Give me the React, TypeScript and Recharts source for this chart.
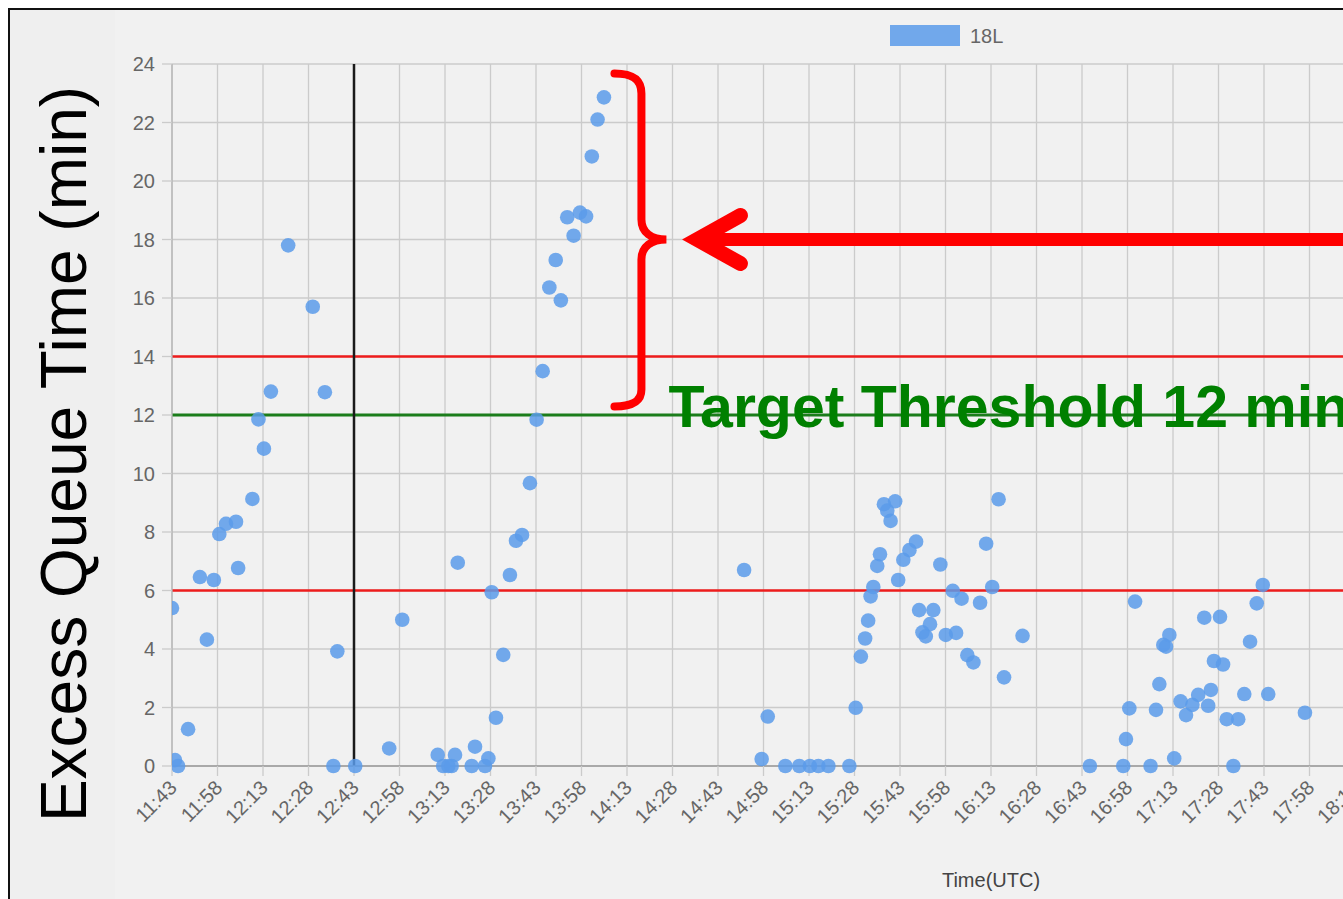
import React from "react";
import {
  ScatterChart,
  Scatter,
  XAxis,
  YAxis,
  CartesianGrid,
  ReferenceLine,
  ReferenceDot,
} from "recharts";

// ---------- data ----------
const tickLabels = [
  "11:43", "11:58", "12:13", "12:28", "12:43", "12:58", "13:13", "13:28",
  "13:43", "13:58", "14:13", "14:28", "14:43", "14:58", "15:13", "15:28",
  "15:43", "15:58", "16:13", "16:28", "16:43", "16:58", "17:13", "17:28",
  "17:43", "17:58", "18:13", "18:28",
];
const yTicks = [0, 2, 4, 6, 8, 10, 12, 14, 16, 18, 20, 22, 24];

// times are minutes after midnight (UTC)
const times1 = [703.0, 704.0, 705.0, 708.3, 712.2, 714.5, 716.8, 718.6, 720.8, 724.1, 724.8, 729.5, 731.5, 733.3, 735.6, 741.3, 749.4, 753.4, 756.2, 757.5, 763.4];
const queue1 = [5.4, 0.2, 0, 1.26, 6.46, 4.32, 6.36, 7.93, 8.28, 8.35, 6.77, 9.13, 11.85, 10.85, 12.8, 17.8, 15.7, 12.78, 0, 3.92, 0];

const times2 = [774.6, 778.9, 790.6, 792.4, 794.1, 795.2, 796.3, 797.2, 801.8, 802.9, 806.2, 807.3, 808.4, 809.8, 812.2, 814.4, 816.4, 818.4, 821.0, 823.2, 825.2, 827.4, 829.5, 831.2, 833.3, 835.4, 837.5, 839.5, 841.4, 843.3, 845.4];
const queue2 = [0.6, 5.0, 0.38, 0, 0, 0, 0.38, 6.95, 0, 0.66, 0, 0.26, 5.94, 1.65, 3.8, 6.53, 7.7, 7.9, 9.67, 11.84, 13.5, 16.36, 17.3, 15.92, 18.76, 18.13, 18.92, 18.79, 20.84, 22.1, 22.86];

const times3 = [891.6, 897.4, 899.4, 905.2, 909.8, 913.3, 916.1, 919.4, 926.3, 928.4, 930.1, 931.5, 932.5, 933.3, 934.2, 935.5, 936.4, 937.7, 938.8, 939.9, 941.4, 942.4, 944.1, 946.1, 948.3, 949.3, 950.4, 951.5, 952.9, 954.0, 956.3, 958.1, 960.4, 961.5, 963.3, 965.2, 967.2, 969.4, 971.4, 973.4, 975.5, 977.3, 983.4];
const queue3 = [6.7, 0.24, 1.69, 0, 0, 0, 0, 0, 0, 1.99, 3.74, 4.36, 4.97, 5.8, 6.12, 6.84, 7.24, 8.95, 8.73, 8.38, 9.05, 6.36, 7.05, 7.38, 7.67, 5.33, 4.57, 4.43, 4.85, 5.33, 6.89, 4.48, 5.99, 4.55, 5.72, 3.79, 3.54, 5.58, 7.6, 6.12, 9.12, 3.03, 4.45];

const times4 = [1005.6, 1016.6, 1017.5, 1018.6, 1020.5, 1025.6, 1027.4, 1028.5, 1029.8, 1030.7, 1031.8, 1033.4, 1035.5, 1037.3, 1039.4, 1041.3, 1043.3, 1044.6, 1045.5, 1046.5, 1048.5, 1049.5, 1050.7, 1052.9, 1054.5, 1056.5, 1058.4, 1060.6, 1062.6, 1064.4, 1076.5];
const queue4 = [0, 0, 0.92, 1.97, 5.62, 0, 1.92, 2.8, 4.14, 4.08, 4.48, 0.26, 2.21, 1.74, 2.09, 2.43, 5.07, 2.06, 2.6, 3.59, 5.1, 3.47, 1.6, 0, 1.6, 2.46, 4.25, 5.56, 6.19, 2.46, 1.82];

const redLimits = [14, 6];
const targetThreshold = 12;
const markerTime = "12:43";
const bracketTime = "14:26";
const bracketLevel = 18;
const seriesName = "18L";

// ---------- helpers ----------
const toMin = (s: string) => {
  const [h, m] = s.split(":").map(Number);
  return h * 60 + m;
};
const tickValues = tickLabels.map(toMin);
const labelFor = (v: number) => tickLabels[tickValues.indexOf(v)] ?? "";

const data = [
  ...times1.map((t, i) => ({ t, v: queue1[i] })),
  ...times2.map((t, i) => ({ t, v: queue2[i] })),
  ...times3.map((t, i) => ({ t, v: queue3[i] })),
  ...times4.map((t, i) => ({ t, v: queue4[i] })),
];

const FONT = "'Liberation Sans', Arial, Helvetica, sans-serif";
const GRID = "#cbcbcb";
const POINT = "#5b9bea";

const XTick = (props: any) => {
  const { x, y, payload } = props;
  return (
    <g transform={`translate(${x + 6},${y + 2})`}>
      <text
        x={0}
        y={0}
        textAnchor="end"
        transform="rotate(-45)"
        fill="#666"
        fontSize={20}
        fontFamily={FONT}
      >
        {labelFor(payload.value)}
      </text>
    </g>
  );
};

const Dot = (props: any) => (
  <circle cx={props.cx} cy={props.cy} r={7.3} fill={POINT} fillOpacity={0.85} />
);

const Bracket = (props: any) => {
  const { cx, cy } = props;
  return (
    <g transform={`translate(${cx},${cy})`}>
      <path
        d="M -52 -166 C -36 -166 -25 -162 -25 -146 L -25 -20 C -25 -7 -15 0 0 0 C -15 0 -25 7 -25 20 L -25 150 C -25 163 -36 167 -52 167"
        fill="none"
        stroke="#ff0000"
        strokeWidth={8}
        strokeLinecap="round"
      />
      <line x1={28} y1={0} x2={900} y2={0} stroke="#ff0000" strokeWidth={13} />
      <polyline
        points="74,-24 31,0 74,24"
        fill="none"
        stroke="#ff0000"
        strokeWidth={15}
        strokeLinecap="round"
        strokeLinejoin="miter"
        strokeMiterlimit={10}
      />
    </g>
  );
};

const TargetText = (props: any) => {
  const { cx, cy } = props;
  return (
    <text
      x={cx + 2}
      y={cy + 12}
      fill="#008000"
      fontSize={59}
      fontWeight="bold"
      fontFamily={FONT}
    >
      Target Threshold 12 min
    </text>
  );
};

export default function App() {
  return (
    <div
      style={{
        position: "fixed",
        left: 8,
        top: 8,
        width: 1335,
        height: 891,
        overflow: "hidden",
        background: "#efefef",
      }}
    >
      <div style={{ position: "absolute", left: 107, top: 0, right: 0, bottom: 0, background: "#f1f1f1" }} />
      <div style={{ position: "absolute", left: 0, top: 0, width: 2, bottom: 0, background: "#111" }} />
      <div style={{ position: "absolute", left: 0, top: 0, right: 0, height: 2, background: "#111" }} />
      <div style={{ position: "absolute", left: 0, top: 0 }}>
        <ScatterChart
          width={1450}
          height={891}
          margin={{ top: 56, right: 57.5, bottom: 33, left: 104 }}
        >
          <CartesianGrid stroke={GRID} strokeWidth={1.3} />
          <XAxis
            type="number"
            dataKey="t"
            domain={[tickValues[0], tickValues[tickValues.length - 1]]}
            ticks={tickValues}
            interval={0}
            height={100}
            tickSize={10}
            tickMargin={11}
            tickLine={{ stroke: GRID, strokeWidth: 1.3 }}
            axisLine={{ stroke: "#9a9a9a", strokeWidth: 1.5 }}
            tick={<XTick />}
            allowDataOverflow
          />
          <YAxis
            type="number"
            dataKey="v"
            domain={[0, 24]}
            ticks={yTicks}
            interval={0}
            width={60}
            tickSize={10}
            tickMargin={7}
            tickLine={{ stroke: GRID, strokeWidth: 1.3 }}
            axisLine={{ stroke: "#b5b5b5", strokeWidth: 1.3 }}
            tick={{ fill: "#666", fontSize: 20, fontFamily: FONT }}
          />
          {redLimits.map((lv) => (
            <ReferenceLine key={lv} y={lv} stroke="#ee1c1c" strokeWidth={2.5} />
          ))}
          <ReferenceLine y={targetThreshold} stroke="#1b7d1b" strokeWidth={2.8} />
          <ReferenceLine x={toMin(markerTime)} stroke="#1a1a1a" strokeWidth={2.5} />
          <Scatter
            name={seriesName}
            data={data}
            shape={<Dot />}
            isAnimationActive={false}
          />
          <ReferenceDot
            x={toMin(bracketTime)}
            y={bracketLevel}
            shape={<Bracket />}
            ifOverflow="visible"
          />
          <ReferenceDot
            x={toMin(bracketTime)}
            y={targetThreshold}
            shape={<TargetText />}
            ifOverflow="visible"
          />
        </ScatterChart>
      </div>
      <svg
        width={1335}
        height={891}
        style={{ position: "absolute", left: 0, top: 0, pointerEvents: "none" }}
      >
        <text
          transform="translate(78,446) rotate(-90)"
          textAnchor="middle"
          fill="#000"
          fontSize={64}
          fontFamily={FONT}
        >
          Excess Queue Time (min)
        </text>
        <rect x={882} y={17} width={70} height={21} fill={POINT} fillOpacity={0.85} />
        <text x={962} y={35} fill="#666" fontSize={20} fontFamily={FONT}>
          {seriesName}
        </text>
        <text x={983} y={879} textAnchor="middle" fill="#444" fontSize={20} fontFamily={FONT}>
          Time(UTC)
        </text>
      </svg>
    </div>
  );
}
